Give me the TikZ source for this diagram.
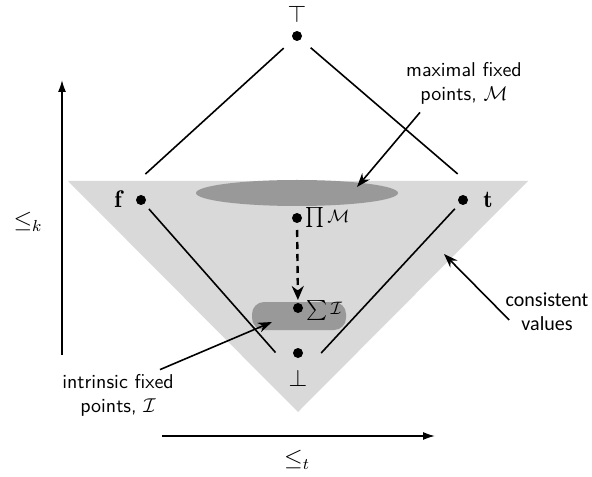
\documentclass[tikz,border=0pt]{standalone}
\usepackage{fontspec}
\newfontfamily\carlito{Carlito}
\usetikzlibrary{arrows.meta}

\begin{document}
\begin{tikzpicture}[x=0.5pt,y=0.5pt,
	dot/.style={circle,fill,inner sep=0pt,minimum size=5pt},
	lbl/.style={font=\sffamily,align=center,inner sep=1pt},
	mlbl/.style={font=\large,inner sep=1pt},
	ptr/.style={-{Stealth[length=7pt,width=5pt]},thick}]
	\useasboundingbox (0,0) rectangle (592,476);
	% consistent values, fixed point regions
	\fill[black!15] (68,295) -- (528,295) -- (298,64) -- cycle;
	\fill[black!40] (297,283) ellipse [x radius=50.5pt, y radius=6.5pt];
	\fill[black!40, rounded corners=6pt] (252,146) rectangle (346,174);
	% lattice points
	\node[dot] (top) at (297,440) {};
	\node[mlbl] (toplab) at (297,462) {$\top$};
	\node[dot] (fdot) at (141,276) {};
	\node[mlbl] (flab) at (118,277) {$\mathbf{f}$};
	\node[dot] (tdot) at (463,276) {};
	\node[mlbl] (tlab) at (488,276) {$\mathbf{t}$};
	\node[dot] (bot) at (298,123) {};
	\node[mlbl] (botlab) at (298,98) {$\bot$};
	\node[dot] (meetM) at (297,258) {};
	\node[anchor=west, inner sep=1pt] (meetlab) at (303,258) {\small$\prod\mathcal{M}$};
	\node[dot] (sumI) at (298,168) {};
	\node[anchor=west, inner sep=1pt] (sumlab) at (304,166) {\small$\sum\mathcal{I}$};
	% edges of the bilattice
	\draw[thick, shorten <=9pt, shorten >=18.5pt] (top.center) -- (flab.center);
	\draw[thick, shorten <=9pt, shorten >=20pt] (top.center) -- (tlab.center);
	\draw[thick, shorten <=6pt, shorten >=17pt] (fdot.center) -- (botlab.center);
	\draw[thick, shorten <=6pt, shorten >=17pt] (tdot.center) -- (botlab.center);
	\draw[very thick, dash pattern=on 3.5pt off 2.5pt, -{Stealth[length=7pt,width=6pt]}, shorten <=6pt, shorten >=4pt] (meetM.center) -- (sumI.center);
	% orderings
	\coordinate (kfrom) at (62,121);
	\coordinate (kto) at (62,396);
	\draw[thick, -{Latex[length=6pt,width=4pt]}] (kfrom) -- (kto);
	\node[mlbl] (klab) at (28,254) {$\leq_k$};
	\coordinate (tfrom) at (162,40);
	\coordinate (tto) at (435,40);
	\draw[thick, -{Latex[length=6pt,width=4pt]}] (tfrom) -- (tto);
	\node[mlbl] (tordlab) at (297,16) {$\leq_t$};
	% annotations
	\node[lbl] (maxlab) at (464,393) {maximal fixed\\points, $\mathcal{M}$};
	\coordinate (maxpt) at (357,289);
	\draw[ptr] ([xshift=-22pt,yshift=-3pt]maxlab.south) -- (maxpt);
	\node[lbl, font=\carlito] (conslab) at (547,164) {consistent\\values};
	\coordinate (conspt) at (444,222);
	\draw[ptr] ([xshift=3pt,yshift=-4pt]conslab.west) -- (conspt);
	\node[lbl] (intlab) at (118,81) {intrinsic fixed\\points, $\mathcal{I}$};
	\coordinate (intpt) at (272,154);
	\draw[ptr] ([xshift=21pt,yshift=1pt]intlab.north) -- (intpt);
\end{tikzpicture}
\end{document}
